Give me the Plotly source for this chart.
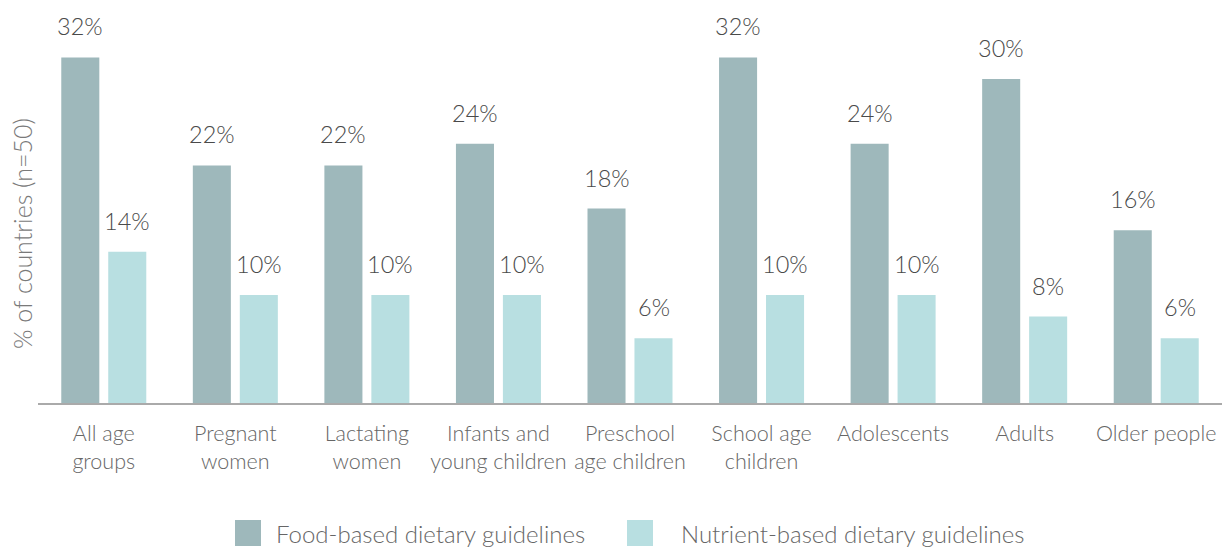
import plotly.graph_objects as go

categories = ["All age<br>groups", "Pregnant<br>women", "Lactating<br>women",
              "Infants and<br>young children", "Preschool<br>age children",
              "School age<br>children", "Adolescents", "Adults", "Older people"]
food_based = [32, 22, 22, 24, 18, 32, 24, 30, 16]
nutrient_based = [14, 10, 10, 10, 6, 10, 10, 8, 6]
series_names = ["Food-based dietary guidelines", "Nutrient-based dietary guidelines"]
y_title = "% of countries (n=50)"

FONT = "Lato, 'Open Sans', sans-serif"
colors = ["#9eb8bb", "#b8dfe1"]

W, H = 1222, 547
L, R, T, B = 38, 0, 25, 144
PW, PH = W - L - R, H - T - B


def px(x):
    return (x - L) / PW


def py(y):
    return (H - B - y) / PH


fig = go.Figure()
for name, vals, col in zip(series_names, [food_based, nutrient_based], colors):
    fig.add_trace(go.Bar(
        x=categories, y=vals, name=name, marker=dict(color=col, line=dict(width=0)),
        hoverinfo="skip", showlegend=False,
    ))

for vals, shift in zip([food_based, nutrient_based], [-23.5, 23.5]):
    for cat, v in zip(categories, vals):
        fig.add_annotation(x=cat, y=v, text=f"{v}%", showarrow=False,
                           xshift=shift, yanchor="bottom", yshift=15,
                           font=dict(family=FONT, size=23.5, color="#4a4a4a", weight=300))

# y-axis title
fig.add_annotation(xref="paper", yref="paper", x=px(22), y=py(234), text=y_title,
                   textangle=-90, showarrow=False, xanchor="center", yanchor="middle",
                   font=dict(family=FONT, size=25, color="#7a7a7a", weight=300))

# legend (custom, large swatches)
legend_sq_x = [235, 627]
legend_txt_x = [274, 679]
for name, col, sx, tx in zip(series_names, colors, legend_sq_x, legend_txt_x):
    fig.add_shape(type="rect", xref="paper", yref="paper",
                  x0=px(sx), x1=px(sx + 26), y0=py(546), y1=py(520),
                  fillcolor=col, line=dict(width=0))
    fig.add_annotation(xref="paper", yref="paper", x=px(tx), y=py(533), text=name,
                       showarrow=False, xanchor="left", yanchor="middle",
                       font=dict(family=FONT, size=24, color="#666", weight=300))

fig.update_layout(
    width=W, height=H,
    margin=dict(l=L, r=R, t=T, b=B, autoexpand=False),
    paper_bgcolor="white", plot_bgcolor="white",
    barmode="group", bargap=0.286, bargroupgap=0.19,
    font=dict(family=FONT, color="#666", weight=300),
    showlegend=False,
)
fig.update_xaxes(showgrid=False, showline=True, linecolor="#aaaaaa", linewidth=2,
                 ticks="", tickfont=dict(family=FONT, size=21.5, color="#666", weight=300),
                 ticklabelstandoff=10, automargin=False)
fig.update_yaxes(range=[0, 35], showgrid=False, showticklabels=False, zeroline=False,
                 showline=False, automargin=False)

fig.write_html("out.html", config={"displayModeBar": False},
               post_script="document.body.style.margin='0';")
